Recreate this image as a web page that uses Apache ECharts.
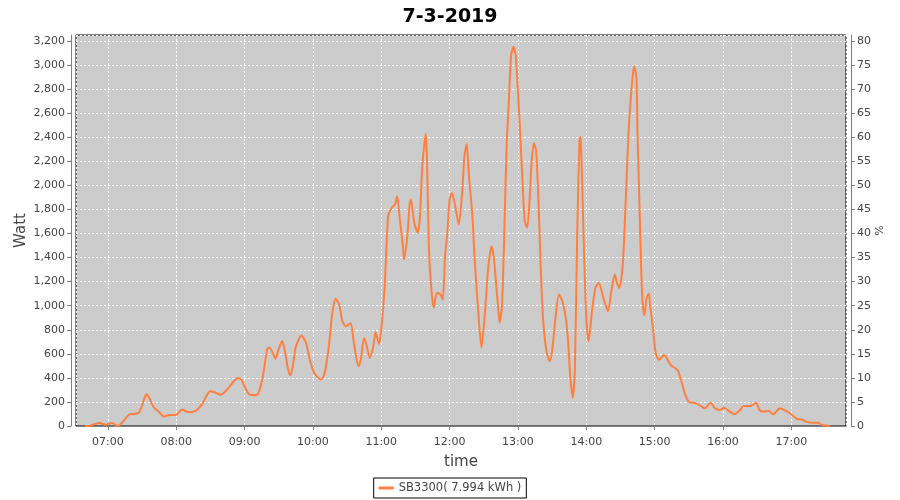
<!DOCTYPE html>
<html><head><meta charset="utf-8">
<script src="https://cdn.jsdelivr.net/npm/echarts@6/dist/echarts.min.js"></script>
<style>html,body{margin:0;padding:0;background:#fff}#c{width:900px;height:500px}</style>
</head><body><div id="c"></div>
<script>
const chartTitle = '7-3-2019';
const seriesName = 'SB3300( 7.994 kWh )';
const xTickLabels = ['07:00','08:00','09:00','10:00','11:00','12:00','13:00','14:00','15:00','16:00','17:00'];
const xRange = ['06:32', '17:48'];
const wattMax = 3250, pctMax = 81.25;
const times = [
'06:40','06:43','06:48','06:53','06:56','06:58','07:01','07:04','07:07','07:09','07:13','07:16','07:19','07:23','07:27','07:30','07:32','07:34','07:36','07:40',
'07:45','07:49','07:54','08:00','08:05','08:08','08:11','08:17','08:23','08:27','08:30','08:33','08:36','08:39','08:44','08:50','08:54','08:57','09:01','09:04',
'09:09','09:12','09:16','09:20','09:22','09:25','09:27','09:30','09:33','09:36','09:38','09:40','09:42','09:45','09:50','09:54','09:58','10:02','10:07','10:10',
'10:14','10:17','10:20','10:23','10:26','10:29','10:33','10:36','10:40','10:42','10:45','10:47','10:50','10:53','10:55','10:58','11:00','11:03','11:06','11:09',
'11:12','11:14','11:16','11:19','11:20','11:23','11:25','11:26','11:29','11:32','11:34','11:36','11:39','11:42','11:44','11:46','11:49','11:52','11:54','11:56',
'11:58','12:00','12:02','12:05','12:08','12:11','12:13','12:15','12:17','12:20','12:22','12:25','12:28','12:31','12:34','12:37','12:39','12:42','12:44','12:46',
'12:48','12:50','12:52','12:54','12:56','12:58','13:00','13:02','13:04','13:06','13:08','13:10','13:12','13:14','13:16','13:18','13:20','13:22','13:25','13:28',
'13:30','13:33','13:36','13:39','13:42','13:44','13:46','13:48','13:50','13:52','13:54','13:55','13:56','13:58','14:00','14:02','14:05','14:08','14:11','14:15',
'14:19','14:22','14:25','14:27','14:29','14:32','14:34','14:37','14:40','14:42','14:44','14:45','14:47','14:49','14:51','14:53','14:55','14:56','14:58','14:59',
'15:01','15:04','15:06','15:08','15:10','15:14','15:20','15:24','15:27','15:30','15:36','15:40','15:44','15:49','15:53','15:57','16:01','16:06','16:10','16:15',
'16:18','16:24','16:29','16:32','16:36','16:40','16:44','16:50','16:55','17:00','17:05','17:09','17:13','17:18','17:24','17:27','17:34'
];
const watts = [
0,0,15,25,15,10,20,25,5,2,33,70,97,100,110,170,230,263,240,158,
116,80,91,94,138,125,114,125,186,260,288,283,270,260,296,366,399,385,310,263,
255,269,410,643,650,600,560,640,706,587,480,421,480,656,753,690,524,428,386,428,
662,938,1057,1010,869,828,855,690,497,552,731,676,566,662,780,682,800,1160,1743,1813,
1840,1910,1743,1495,1385,1592,1855,1882,1690,1605,1743,2160,2430,1440,1135,983,1108,1094,1052,1412,
1605,1882,1937,1826,1675,1937,2240,2344,2075,1743,1385,969,650,938,1328,1495,1385,1052,860,1000,
1600,2310,2700,3080,3150,3080,2780,2420,2033,1701,1650,1839,2199,2351,2282,1867,1314,899,622,539,
622,899,1093,1037,899,705,401,235,484,1590,2365,2406,2144,1452,899,705,954,1148,1189,1065,
954,1120,1259,1189,1148,1341,1729,2420,2835,2990,2890,2420,1729,1093,920,1065,1100,1000,850,770,
600,550,570,590,575,507,465,354,258,202,190,169,147,194,147,133,152,119,97,133,
166,166,194,133,119,127,97,147,127,97,58,55,36,28,28,8,0
];

function ts(hhmm) {
  const p = hhmm.split(':').map(Number);
  return new Date(2019, 2, 7, p[0], p[1]).getTime();
}
function pad(n) { return (n < 10 ? '0' : '') + n; }
const seriesData = times.map((t, i) => [ts(t), watts[i]]);
const FONT = 'DejaVu Sans';
const TXT = '#444444';

const chart = echarts.init(document.getElementById('c'), null, {renderer: 'canvas'});
chart.setOption({
  animation: false,
  backgroundColor: '#ffffff',
  textStyle: {fontFamily: FONT},
  title: {
    text: chartTitle, left: 'center', top: 3,
    textStyle: {fontFamily: FONT, fontWeight: 'bold', fontSize: 19, color: '#000'}
  },
  grid: {
    left: 76, right: 54, top: 35, bottom: 74,
    show: true, backgroundColor: '#cccccc', borderColor: '#000000', borderWidth: 1
  },
  legend: {
    data: [seriesName], left: 'center', bottom: 2,
    borderColor: '#000', borderWidth: 1, padding: [4, 5, 4, 5],
    icon: 'rect', itemWidth: 15, itemHeight: 3, itemGap: 4,
    textStyle: {fontFamily: FONT, fontSize: 11.5, color: TXT}
  },
  xAxis: {
    type: 'time',
    min: ts(xRange[0]), max: ts(xRange[1]),
    minInterval: 3600000, maxInterval: 3600000, splitNumber: 11,
    offset: 5,
    name: 'time', nameLocation: 'middle', nameGap: 24, nameMoveOverlap: false,
    nameTextStyle: {fontFamily: FONT, fontSize: 15, color: TXT},
    axisLine: {show: true, lineStyle: {color: '#808080', width: 1}},
    axisTick: {show: true, length: 4, lineStyle: {color: '#808080'}},
    axisLabel: {
      color: TXT, fontFamily: FONT, fontSize: 11, margin: 6,
      showMinLabel: false, showMaxLabel: false, hideOverlap: false,
      formatter: function (v) {
        const d = new Date(v);
        if (d.getMinutes() !== 0) return '';
        const s = pad(d.getHours()) + ':00';
        return xTickLabels.indexOf(s) >= 0 ? s : '';
      }
    },
    splitLine: {show: true, lineStyle: {color: '#ffffff', type: [2, 2], width: 1}}
  },
  yAxis: [{
    type: 'value', min: 0, max: wattMax, interval: 200,
    offset: 5, position: 'left',
    name: 'Watt', nameLocation: 'middle', nameGap: 42, nameRotate: 90, nameMoveOverlap: false,
    nameTextStyle: {fontFamily: FONT, fontSize: 15, color: TXT},
    axisLine: {show: true, lineStyle: {color: '#808080', width: 1}},
    axisTick: {show: true, length: 4, lineStyle: {color: '#808080'}},
    axisLabel: {
      color: TXT, fontFamily: FONT, fontSize: 11, margin: 6, showMaxLabel: false,
      formatter: v => (v % 200 === 0 ? v.toLocaleString('en-US') : '')
    },
    splitLine: {show: true, lineStyle: {color: '#ffffff', type: [2, 2], width: 1}}
  }, {
    type: 'value', min: 0, max: pctMax, interval: 5,
    offset: 5, position: 'right',
    name: '%', nameLocation: 'middle', nameGap: 24, nameRotate: 90, nameMoveOverlap: false,
    nameTextStyle: {fontFamily: FONT, fontSize: 11, color: TXT},
    axisLine: {show: true, lineStyle: {color: '#808080', width: 1}},
    axisTick: {show: true, length: 4, lineStyle: {color: '#808080'}},
    axisLabel: {
      color: TXT, fontFamily: FONT, fontSize: 11, margin: 6, showMaxLabel: false,
      formatter: v => (v % 5 === 0 ? String(v) : '')
    },
    splitLine: {show: false}
  }],
  series: [{
    name: seriesName, type: 'line', yAxisIndex: 0,
    data: seriesData, showSymbol: false, smooth: 0.25,
    lineStyle: {color: '#ff7f3f', width: 2},
    itemStyle: {color: '#ff7f3f'}
  }]
});
</script>
</body></html>
